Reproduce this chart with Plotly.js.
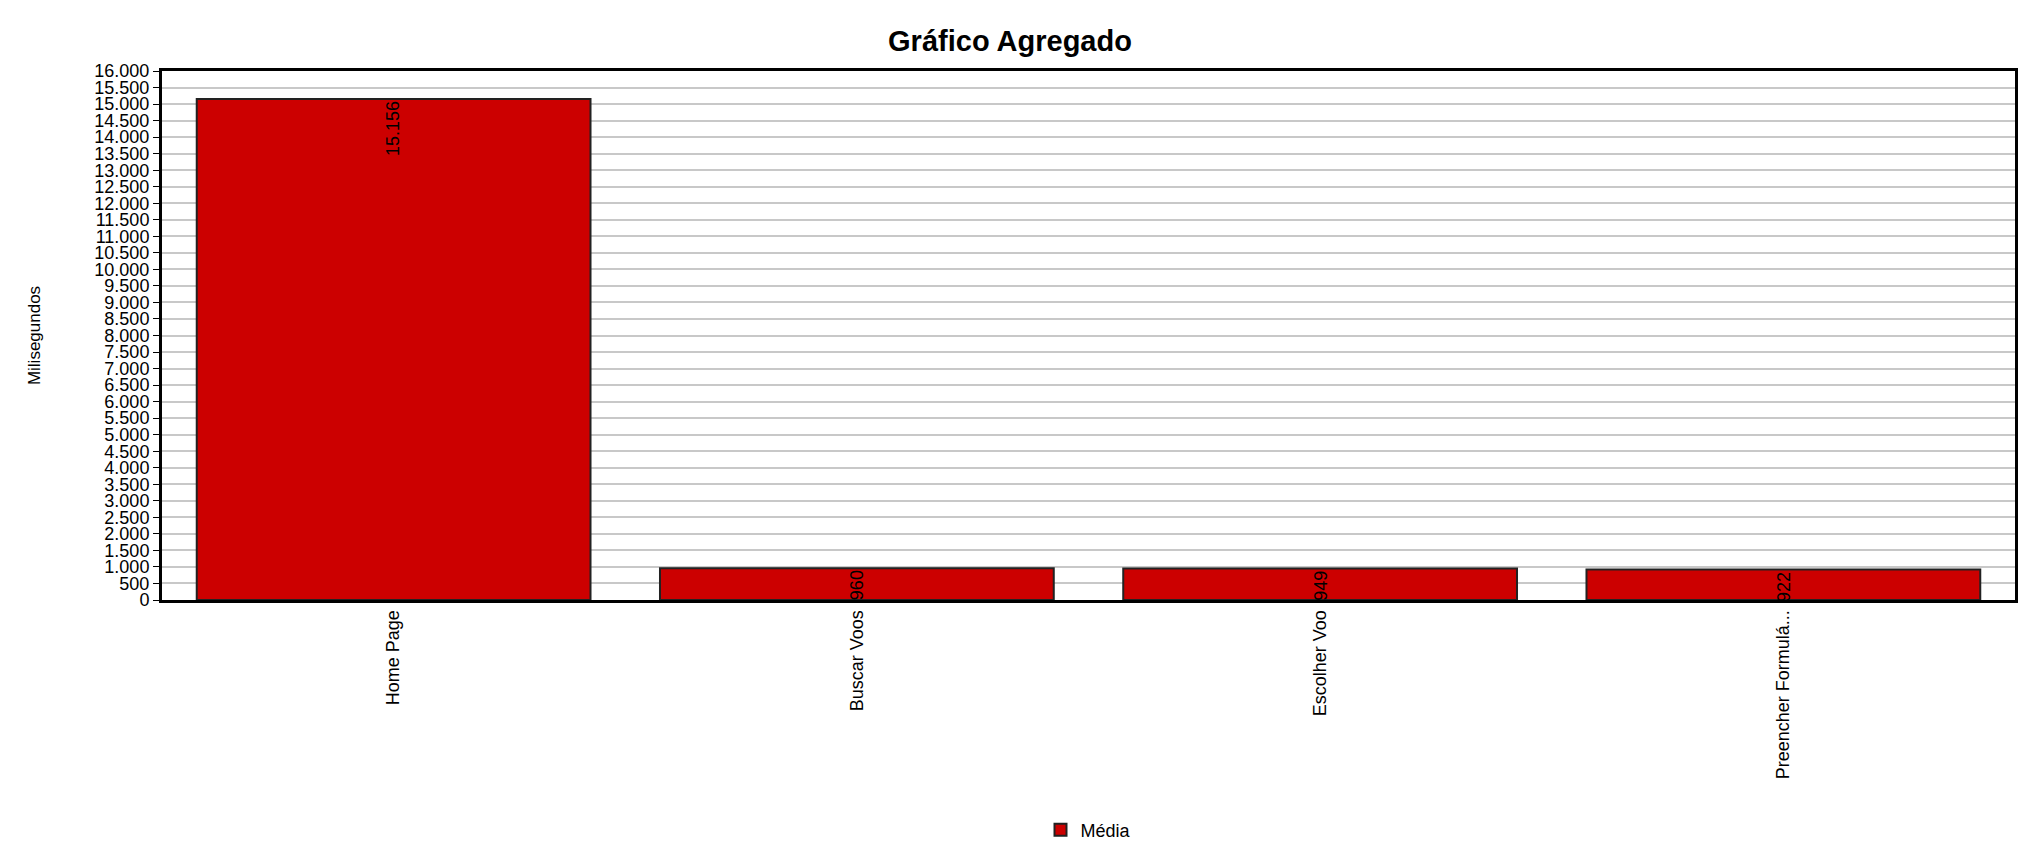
<!DOCTYPE html>
<html>
<head>
<meta charset="utf-8">
<script src="https://cdn.plot.ly/plotly-3.0.1.min.js"></script>
<style>body{margin:0;background:#fff}#chart{width:2020px;height:864px}</style>
</head>
<body>
<div id="chart"></div>
<script>
let categories = ['Home Page', 'Buscar Voos', 'Escolher Voo', 'Preencher Formulá...'];
let media = [15156, 960, 949, 922];
let labels = ['15.156', '960', '949', '922'];

let trace = {
  type: 'bar',
  x: categories,
  y: media,
  name: 'Média',
  width: 0.85,
  marker: {color: '#cc0000', line: {color: '#222', width: 2}},
  hoverinfo: 'none'
};

let annotations = categories.map(function(c, i) {
  return {
    x: c, y: media[i], xref: 'x', yref: 'y',
    text: labels[i], textangle: -90,
    yanchor: 'top', showarrow: false,
    font: {family: 'Liberation Sans, Arial', size: 18, color: '#000'}
  };
});

let layout = {
  font: {family: 'Liberation Sans, Arial', size: 18, color: '#000'},
  title: {text: '<b>Gráfico Agregado</b>', x: 0.5, y: 0.965, font: {size: 29}},
  separators: ',.',
  margin: {l: 162, r: 5, t: 71, b: 264},
  plot_bgcolor: '#fff',
  showlegend: true,
  legend: {orientation: 'h', x: 0.5, xanchor: 'center', y: -0.435, yanchor: 'middle', font: {size: 18}},
  xaxis: {
    tickangle: -90, showline: true, linecolor: '#000', linewidth: 3, mirror: true,
    ticks: '', showgrid: false
  },
  yaxis: {
    range: [0, 16000], dtick: 500, tickformat: ',d',
    showline: true, linecolor: '#000', linewidth: 3, mirror: true,
    ticks: 'outside', ticklen: 6, tickcolor: '#000',
    gridcolor: '#c8c8c8', gridwidth: 2, zeroline: false,
    title: {text: 'Milisegundos', standoff: 50, font: {size: 17}}
  },
  bargap: 0.15,
  annotations: annotations
};

Plotly.newPlot('chart', [trace], layout, {displayModeBar: false, staticPlot: true});
</script>
</body>
</html>
